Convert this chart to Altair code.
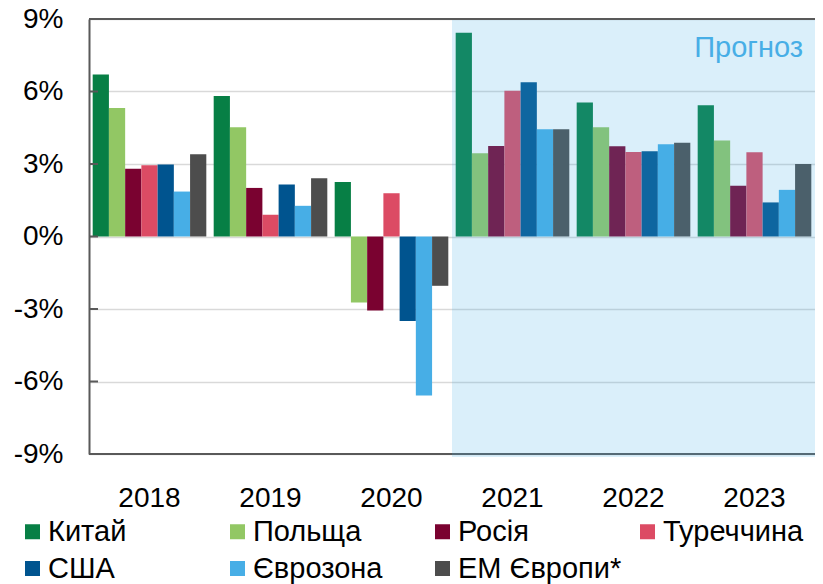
import altair as alt
import pandas as pd

years = ["2018", "2019", "2020", "2021", "2022", "2023"]
countries = ["Китай", "Польща", "Росія", "Туреччина", "США", "Єврозона", "ЕМ Європи*"]
colors = ["#077F45", "#92C764", "#7A0230", "#DC4B64", "#00548F", "#47AEE6", "#4D4D4D"]

china   = [6.70, 5.81, 2.26, 8.43, 5.55, 5.43]
poland  = [5.32, 4.52, -2.73, 3.45, 4.52, 3.97]
russia  = [2.80, 2.01, -3.06, 3.75, 3.73, 2.10]
turkey  = [2.95, 0.90, 1.79, 6.03, 3.50, 3.49]
usa     = [2.98, 2.15, -3.50, 6.38, 3.53, 1.41]
euro    = [1.86, 1.27, -6.58, 4.44, 3.82, 1.93]
em_eur  = [3.40, 2.41, -2.04, 4.44, 3.88, 3.00]

y_ticks = [-9, -6, -3, 0, 3, 6, 9]
forecast_label = "Прогноз"

series = [china, poland, russia, turkey, usa, euro, em_eur]
rows = []
for c, vals in zip(countries, series):
    for y, v in zip(years, vals):
        rows.append({"year": y, "country": c, "value": v})
df = pd.DataFrame(rows)

FONT = "Liberation Sans"
W, H = 726, 435

x_enc = alt.X("year:N", sort=years, title=None,
              scale=alt.Scale(paddingInner=0.061, paddingOuter=0.0305),
              axis=alt.Axis(labelFontSize=28, labelFont=FONT, labelColor="black",
                            labelPadding=30, ticks=False, domain=False, labelAngle=0))
y_scale = alt.Scale(domain=[-9, 9], nice=False)

bars = alt.Chart(df).mark_bar().encode(
    x=x_enc,
    xOffset=alt.XOffset("country:N", sort=countries),
    y=alt.Y("value:Q", scale=y_scale, title=None,
            axis=alt.Axis(values=y_ticks, labelExpr="datum.value + '%'",
                          labelFontSize=28, labelFont=FONT, labelColor="black",
                          labelPadding=26, ticks=False, domain=True,
                          domainColor="#595959", domainWidth=2,
                          grid=True, gridColor="#D9D9D9", gridWidth=1.5)),
    color=alt.Color("country:N", sort=countries,
                    scale=alt.Scale(domain=countries, range=colors),
                    legend=alt.Legend(title=None, orient="none", legendX=-71, legendY=498,
                                      direction="horizontal", columns=4, gridAlign="all",
                                      columnPadding=11, rowPadding=7,
                                      symbolType="square", symbolSize=225,
                                      symbolStrokeWidth=0, labelOffset=1, labelLimit=300,
                                      labelFontSize=29, labelFont=FONT, labelColor="black",
                                      padding=0)),
)

frame = alt.Chart(pd.DataFrame({"v": [-9, 9]})).mark_rule(color="#595959", strokeWidth=2).encode(
    y=alt.Y("v:Q", scale=y_scale),
    x=alt.value(0), x2=alt.value(W),
)

ticks = alt.Chart(pd.DataFrame({"v": y_ticks})).mark_rule(color="#595959", strokeWidth=2).encode(
    y=alt.Y("v:Q", scale=y_scale),
    x=alt.value(0), x2=alt.value(9),
)

shade = alt.Chart(pd.DataFrame({"a": [1]})).mark_rect(color="#47AEE6", opacity=0.2).encode(
    x=alt.value(W / 2), x2=alt.value(W), y=alt.value(1), y2=alt.value(438),
)

label = alt.Chart(pd.DataFrame({"t": [forecast_label]})).mark_text(
    color="#47AEE6", fontSize=29, font=FONT, align="right", baseline="alphabetic"
).encode(text="t:N", x=alt.value(714), y=alt.value(38))

chart = alt.layer(bars, frame, ticks, shade, label).properties(
    width=W, height=H,
    autosize=alt.AutoSizeParams(type="none"),
    padding={"left": 81, "top": 11, "right": 0, "bottom": 130},
).configure_view(stroke=None).configure(background="white")

chart.save("out.html", embed_options={"renderer": "svg", "actions": False})
